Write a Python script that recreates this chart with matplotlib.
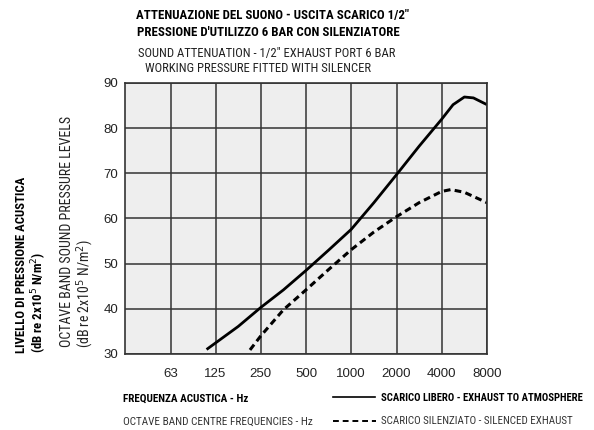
import numpy as np
import matplotlib
matplotlib.use("Agg")
import matplotlib.pyplot as plt
from matplotlib.lines import Line2D

# Octave band centre frequencies (tick labels)
bands = [63, 125, 250, 500, 1000, 2000, 4000, 8000]
y_ticks = [30, 40, 50, 60, 70, 80, 90]

# Exhaust to atmosphere (solid curve)
free_hz = [109, 177, 250, 354, 500, 707, 1000, 1414, 2000, 2828, 4000, 4757, 5657, 6498, 8000]
free_db = [31.0, 36.1, 40.3, 44.2, 48.5, 53.0, 57.6, 63.5, 69.7, 76.0, 82.0, 85.2, 86.9, 86.7, 85.2]

# Silenced exhaust (dashed curve)
sil_hz = [212, 250, 354, 500, 707, 1000, 1414, 2000, 2828, 4000, 4595, 5657, 8000]
sil_db = [30.9, 34.0, 39.8, 44.2, 48.7, 53.1, 57.0, 60.4, 63.5, 66.0, 66.4, 65.8, 63.5]

narrow = ["Roboto Condensed", "DejaVu Sans"]
plain = ["Liberation Sans", "DejaVu Sans"]

fig = plt.figure(figsize=(5.94, 4.30), dpi=100)
ax = fig.add_axes([125 / 594, 1 - 354 / 430, 362 / 594, 271 / 430])
ax.set_facecolor("#eeeeee")

ax.plot(free_hz, free_db, color="black", lw=2.0, solid_capstyle="butt")
ax.plot(sil_hz, sil_db, color="black", lw=2.2, linestyle=(0, (2.2, 1.4)))

ax.set_xscale("log", base=2)
ax.set_xlim(31.25, 8000)
ax.set_ylim(30, 90)
ax.set_xticks(bands)
ax.set_xticklabels([str(b) for b in bands], family=plain, fontsize=9.5, color="#222222")
ax.minorticks_off()
ax.set_yticks(y_ticks)
ax.set_yticklabels([str(v) for v in y_ticks], family=plain, fontsize=9.5, color="#222222")
ax.tick_params(length=0)
ax.tick_params(axis="x", pad=10)
ax.tick_params(axis="y", pad=5)
ax.grid(True, color="#333333", lw=1.1)
ax.set_axisbelow(True)
for s in ax.spines.values():
    s.set_color("#333333")
    s.set_linewidth(1.2)

# titles
fig.text(272 / 594, 1 - 16 / 430, "ATTENUAZIONE DEL SUONO - USCITA SCARICO 1/2\"",
         ha="center", va="center", fontsize=9.3, fontweight="bold", family=narrow)
fig.text(268 / 594, 1 - 32 / 430, "PRESSIONE D'UTILIZZO 6 BAR CON SILENZIATORE",
         ha="center", va="center", fontsize=9.3, fontweight="bold", family=narrow)
fig.text(267 / 594, 1 - 54 / 430, "SOUND ATTENUATION - 1/2\" EXHAUST PORT 6 BAR",
         ha="center", va="center", fontsize=9.1, family=narrow, color="#222222")
fig.text(258 / 594, 1 - 69 / 430, "WORKING PRESSURE FITTED WITH SILENCER",
         ha="center", va="center", fontsize=9.1, family=narrow, color="#222222")

# y axis labels
fig.text(22 / 594, 1 - 353 / 430, "LIVELLO DI PRESSIONE ACUSTICA", rotation=90,
         ha="center", va="bottom", fontsize=9.2, fontweight="bold", family=narrow)
fig.text(39 / 594, 1 - 353 / 430, r"(dB re 2x10$^5$ N/m$^2$)", rotation=90,
         ha="center", va="bottom", fontsize=9.2, fontweight="bold", family=narrow)
fig.text(67 / 594, 1 - 347 / 430, "OCTAVE BAND SOUND PRESSURE LEVELS", rotation=90,
         ha="center", va="bottom", fontsize=10, family=narrow, color="#222222")
fig.text(85 / 594, 1 - 348 / 430, r"(dB re 2x10$^5$ N/m$^2$)", rotation=90,
         ha="center", va="bottom", fontsize=10, family=narrow, color="#222222")

# x axis labels
fig.text(123 / 594, 1 - 399 / 430, "FREQUENZA ACUSTICA - Hz",
         ha="left", va="center", fontsize=8, fontweight="bold", family=narrow)
fig.text(123 / 594, 1 - 422 / 430, "OCTAVE BAND CENTRE FREQUENCIES - Hz",
         ha="left", va="center", fontsize=8.1, family=narrow, color="#333333")

# legend
fig.add_artist(Line2D([333 / 594, 375 / 594], [1 - 397 / 430, 1 - 397 / 430],
                      color="black", lw=1.2))
fig.add_artist(Line2D([333 / 594, 376 / 594], [1 - 421 / 430, 1 - 421 / 430],
                      color="black", lw=1.4, linestyle=(0, (3, 2))))
fig.text(381 / 594, 1 - 398 / 430, "SCARICO LIBERO - EXHAUST TO ATMOSPHERE",
         ha="left", va="center", fontsize=7.7, fontweight="bold", family=narrow)
fig.text(381 / 594, 1 - 421 / 430, "SCARICO SILENZIATO - SILENCED EXHAUST",
         ha="left", va="center", fontsize=7.9, family=narrow, color="#333333")

fig.savefig("out.png", dpi=100, facecolor="white")
